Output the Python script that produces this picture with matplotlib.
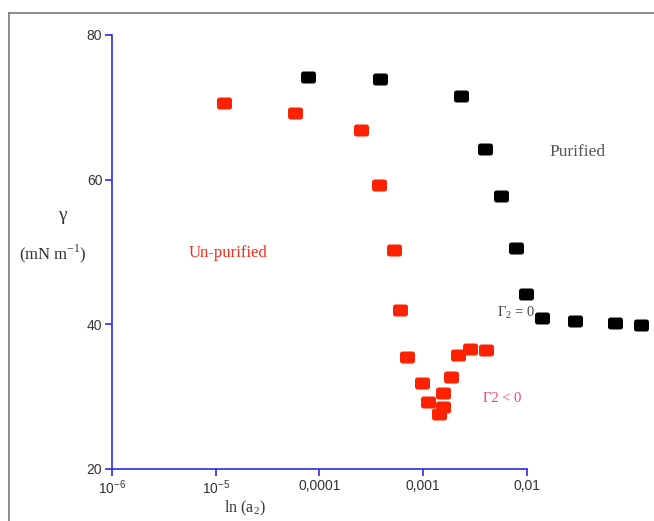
import numpy as np
import matplotlib
matplotlib.use("Agg")
import matplotlib.pyplot as plt
from matplotlib.path import Path
from matplotlib.lines import Line2D

# ---- data ----
purified_a = [7.8e-5, 3.8e-4, 2.3e-3, 3.95e-3, 5.6e-3, 7.9e-3, 9.8e-3, 0.014, 0.029, 0.071, 0.126]
purified_g = [74.2, 73.9, 71.5, 64.3, 57.7, 50.5, 44.2, 40.9, 40.4, 40.2, 39.9]

unpurified_a = [1.2e-5, 5.8e-5, 2.5e-4, 3.76e-4, 5.2e-4, 6.0e-4, 7.0e-4, 9.75e-4, 1.11e-3,
                1.42e-3, 1.56e-3, 1.56e-3, 1.86e-3, 2.17e-3, 2.83e-3, 4.03e-3]
unpurified_g = [70.6, 69.2, 66.8, 59.2, 50.3, 42.0, 35.5, 31.9, 29.3,
                27.6, 28.6, 30.5, 32.7, 35.8, 36.6, 36.5]

x_ticks = [1e-6, 1e-5, 1e-4, 1e-3, 1e-2]
x_ticklabels = [r'$\mathregular{10^{-6}}$', r'$\mathregular{10^{-5}}$', '0,0001', '0,001', '0,01']
y_ticks = [20, 40, 60, 80]

# ---- rounded rectangle marker ----
def rounded_rect(w=1.0, h=0.8, r=0.17, n=8):
    pts = []
    corners = [(w/2 - r, h/2 - r, 0), (-w/2 + r, h/2 - r, 90),
               (-w/2 + r, -h/2 + r, 180), (w/2 - r, -h/2 + r, 270)]
    for cx, cy, a0 in corners:
        for t in np.linspace(np.radians(a0), np.radians(a0 + 90), n):
            pts.append((cx + r*np.cos(t), cy + r*np.sin(t)))
    pts.append(pts[0])
    codes = [Path.MOVETO] + [Path.LINETO]*(len(pts) - 2) + [Path.CLOSEPOLY]
    return Path(pts, codes)

marker = rounded_rect()

W, H = 654, 521
fig = plt.figure(figsize=(W/100, H/100), dpi=100)
fig.patch.set_facecolor('white')

ax_left, ax_bottom, ax_top, ax_right = 112, 469, 35, 654
ax = fig.add_axes([ax_left/W, (H-ax_bottom)/H, (ax_right-ax_left)/W, (ax_bottom-ax_top)/H])

ppd = 103.7
ax.set_xscale('log')
ax.set_xlim(1e-6, 10**(-6 + (ax_right-ax_left)/ppd))
ax.set_ylim(20, 80)

ms = 15*0.72
ax.plot(purified_a, purified_g, linestyle='none', marker=marker, markersize=ms,
        color='black', markeredgewidth=0, clip_on=False)
ax.plot(unpurified_a, unpurified_g, linestyle='none', marker=marker, markersize=ms,
        color='#ff2200', markeredgewidth=0, clip_on=False)

blue = '#2a2aee'
for s in ['top', 'right']:
    ax.spines[s].set_visible(False)
ax.spines['left'].set_color(blue)
ax.spines['bottom'].set_color(blue)
ax.spines['left'].set_linewidth(1.2)
ax.spines['bottom'].set_linewidth(1.2)
ax.spines['bottom'].set_bounds(1e-6, 1e-2)
ax.spines['left'].set_bounds(20, 80)

ax.set_xticks(x_ticks)
ax.set_xticklabels(x_ticklabels)
ax.xaxis.set_minor_locator(matplotlib.ticker.NullLocator())
ax.set_yticks(y_ticks)
ax.tick_params(axis='both', direction='out', length=5, width=1.2, color=blue,
               labelcolor='#333333', labelsize=10, pad=2)
for lab in ax.get_xticklabels() + ax.get_yticklabels():
    lab.set_fontfamily('Liberation Sans')

serif = 'Liberation Serif'
def fx(px):
    return px / W
def fy(py):
    return 1 - py / H

fig.text(fx(62), fy(216), 'γ', family=serif, fontsize=14, color='#333333', ha='center', va='center')
fig.text(fx(53), fy(254), r'(mN m$^{\mathregular{-1}}$)', family=serif, fontsize=12,
         color='#333333', ha='center', va='center')
fig.text(fx(245), fy(508), r'ln (a$_{\mathregular{2}}$)', family=serif, fontsize=11.5,
         color='#333333', ha='center', va='center')

fig.text(fx(578), fy(152), 'Purified', family=serif, fontsize=12.5, color='#555555', ha='center', va='center')
fig.text(fx(228), fy(253), 'Un-purified', family=serif, fontsize=12, color='#ff2a1a', ha='center', va='center')
fig.text(fx(497), fy(313), r'Γ$_{\mathregular{2}}$ = 0', family=serif, fontsize=10.5, color='#444444',
         ha='left', va='center')
fig.text(fx(483), fy(398), 'Γ2 < 0', family=serif, fontsize=10.5, color='#ff3d7f', ha='left', va='center')

# figure frame (top and left gray edges)
fig.add_artist(Line2D([fx(9), 1], [fy(13), fy(13)], color='#777777', linewidth=1.2))
fig.add_artist(Line2D([fx(9), fx(9)], [fy(13), 0], color='#777777', linewidth=1.2))

fig.savefig('out.png', dpi=100)
